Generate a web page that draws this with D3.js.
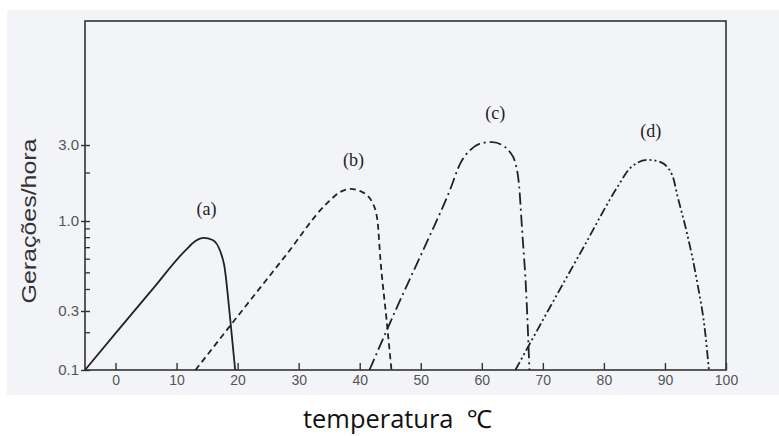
<!DOCTYPE html>
<html>
<head>
<meta charset="utf-8">
<script src="https://cdn.jsdelivr.net/npm/d3@7"></script>
<style>
  html, body { margin: 0; padding: 0; background: #fff; }
  svg { display: block; }
</style>
</head>
<body>
<div id="chart"></div>
<script>
// ========================
// Data
// ========================
const seriesNames = ["(a)", "(b)", "(c)", "(d)"];

const tempA = [-5, 0.4, 6.0, 11.5, 13.1, 14.4, 15.9, 17.2, 17.8, 18.8, 19.6];
const rateA = [0.1, 0.209, 0.399, 0.678, 0.765, 0.797, 0.775, 0.66, 0.555, 0.254, 0.1];

const tempB = [13.1, 20.4, 27.8, 34.7, 36.8, 38.5, 40.4, 42.1, 42.9, 43.4, 44.4, 45.2];
const rateB = [0.1, 0.288, 0.625, 1.30, 1.52, 1.59, 1.52, 1.30, 1.01, 0.593, 0.254, 0.1];

const tempC = [41.6, 45.9, 50.4, 54.8, 56.5, 58.1, 60.1, 61.7, 63.3, 64.6, 65.5, 66.1, 66.6, 67.3, 67.8];
const rateC = [0.1, 0.304, 0.679, 1.57, 2.31, 2.79, 3.09, 3.13, 3.0, 2.71, 2.31, 1.68, 0.888, 0.368, 0.1];

const tempD = [65.5, 71.0, 76.6, 82.2, 84.3, 87.2, 89.2, 91.2, 92.1, 93.6, 95.3, 96.6, 97.2];
const rateD = [0.1, 0.308, 0.697, 1.63, 2.15, 2.42, 2.35, 1.94, 1.41, 0.852, 0.437, 0.199, 0.1];

const xTicks = [0, 10, 20, 30, 40, 50, 60, 70, 80, 90, 100];
const yTicks = [0.1, 0.3, 1.0, 3.0];
const yMinorTicks = [0.2, 0.4, 0.5, 0.6, 0.7, 0.8, 0.9, 2.0];

function drawChart(containerId) {
    const width = 779;
    const height = 436;
    const plot = { left: 85, right: 726, top: 21, bottom: 370 };

    const svg = d3.select(containerId)
        .append("svg")
        .attr("width", width)
        .attr("height", height);

    // scanned page background
    svg.append("rect")
        .attr("x", 7).attr("y", 10)
        .attr("width", width - 7).attr("height", 385)
        .attr("fill", "#f3f4f8");

    // --- Scales ---
    const x = d3.scaleLinear()
        .domain([-5, 100])
        .range([plot.left, plot.right]);

    // hand drawn log axis: each decade piece is a bit different
    const y = d3.scaleLog()
        .domain([0.1, 0.3, 1, 3, 10])
        .range([370, 311, 221, 145, 62]);

    // --- Frame ---
    svg.append("rect")
        .attr("x", plot.left).attr("y", plot.top)
        .attr("width", plot.right - plot.left)
        .attr("height", plot.bottom - plot.top)
        .attr("fill", "none")
        .attr("stroke", "#333")
        .attr("stroke-width", 1.6);

    // --- X axis ---
    const xAxis = svg.append("g")
        .attr("transform", `translate(0,${plot.bottom})`)
        .call(d3.axisBottom(x)
            .tickValues(xTicks)
            .tickSizeInner(-7)
            .tickSizeOuter(0)
            .tickPadding(5));
    xAxis.select(".domain").remove();
    xAxis.selectAll(".tick line").attr("stroke", "#333").attr("stroke-width", 1.4);
    xAxis.selectAll("text")
        .attr("fill", "#555")
        .style("font-family", "Liberation Sans, Arial, sans-serif")
        .style("font-size", "14px");

    // --- Y axis ---
    const yAxis = svg.append("g")
        .attr("transform", `translate(${plot.left},0)`)
        .call(d3.axisLeft(y)
            .tickValues(yTicks)
            .tickFormat(d3.format(".1f"))
            .tickSizeInner(4)
            .tickSizeOuter(0)
            .tickPadding(2));
    yAxis.select(".domain").remove();
    yAxis.selectAll(".tick line")
        .attr("x2", 5)
        .attr("x1", -4)
        .attr("stroke", "#333")
        .attr("stroke-width", 1.4);
    yAxis.selectAll("text")
        .attr("fill", "#555")
        .style("font-family", "Liberation Sans, Arial, sans-serif")
        .style("font-size", "15px");

    svg.selectAll(".minor")
        .data(yMinorTicks)
        .enter()
        .append("line")
        .attr("class", "minor")
        .attr("x1", plot.left).attr("x2", plot.left + 5)
        .attr("y1", d => y(d)).attr("y2", d => y(d))
        .attr("stroke", "#333")
        .attr("stroke-width", 1.3);

    // --- Curves ---
    const series = [
        { name: seriesNames[0], temps: tempA, rates: rateA, dash: null },
        { name: seriesNames[1], temps: tempB, rates: rateB, dash: "6,4" },
        { name: seriesNames[2], temps: tempC, rates: rateC, dash: "12,4,2,4" },
        { name: seriesNames[3], temps: tempD, rates: rateD, dash: "9,3,2,3,2,3" }
    ];

    const line = d3.line()
        .x(d => x(d[0]))
        .y(d => y(d[1]))
        .curve(d3.curveMonotoneX);

    series.forEach(s => {
        const pts = s.temps.map((t, i) => [t, s.rates[i]]);
        svg.append("path")
            .attr("d", line(pts))
            .attr("fill", "none")
            .attr("stroke", "#222")
            .attr("stroke-width", 1.8)
            .attr("stroke-dasharray", s.dash);

        // label sits above the peak
        const peak = pts.reduce((a, b) => (b[1] > a[1] ? b : a));
        svg.append("text")
            .attr("x", x(peak[0]) + 3)
            .attr("y", y(peak[1]) - 27)
            .attr("text-anchor", "middle")
            .attr("dominant-baseline", "middle")
            .attr("fill", "#222")
            .style("font-family", "Liberation Serif, Times New Roman, serif")
            .style("font-size", "18px")
            .text(s.name);
    });

    // --- Axis titles ---
    svg.append("text")
        .attr("transform", "translate(30,221) rotate(-90)")
        .attr("text-anchor", "middle")
        .attr("dominant-baseline", "middle")
        .attr("fill", "#333")
        .attr("textLength", 165)
        .attr("lengthAdjust", "spacingAndGlyphs")
        .style("font-family", "Liberation Sans, Arial, sans-serif")
        .style("font-size", "21px")
        .text("Gerações/hora");

    svg.append("text")
        .attr("x", 303)
        .attr("y", 428)
        .attr("fill", "#111")
        .attr("textLength", 189)
        .attr("lengthAdjust", "spacingAndGlyphs")
        .style("white-space", "pre")
        .style("font-family", "Open Sans, Noto Sans, sans-serif")
        .style("font-size", "25px")
        .text("temperatura  ℃");
}

drawChart("#chart");
</script>
</body>
</html>
